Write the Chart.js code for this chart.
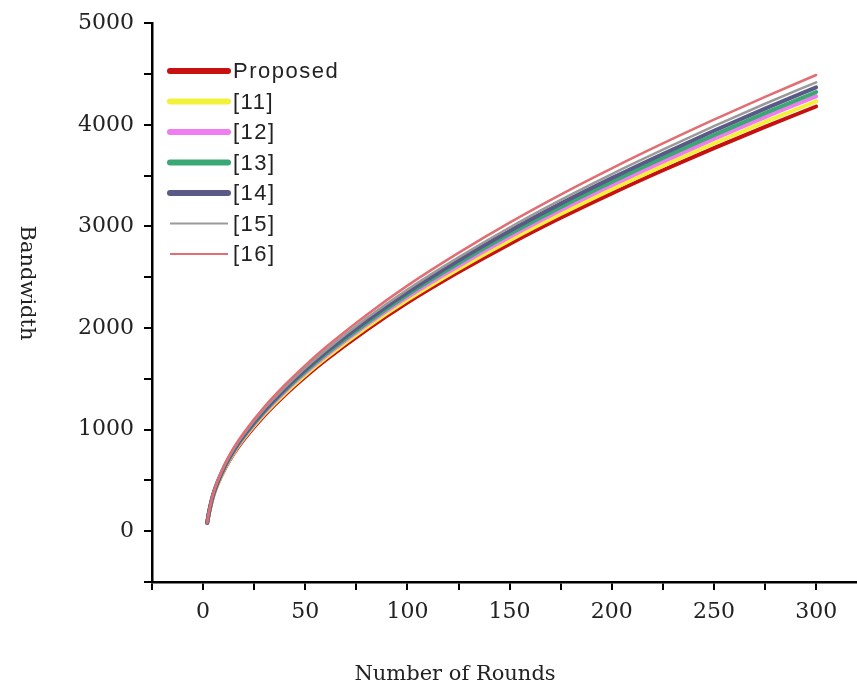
<!DOCTYPE html>
<html>
<head>
<meta charset="utf-8">
<script src="https://cdn.jsdelivr.net/npm/chart.js@4.4.1/dist/chart.umd.min.js"></script>
<style>
  html, body { margin: 0; padding: 0; background: #fff; }
  #wrap { width: 857px; height: 688px; }
</style>
</head>
<body>
<div id="wrap"><canvas id="bwChart"></canvas></div>
<script>
// Number of rounds (x values)
const rounds = [2, 3, 5, 10, 15, 20, 30, 40, 50, 60, 80, 100, 125, 150, 175, 200, 225, 250, 275, 300];

// Bandwidth, one array per scheme
const proposed = [80, 190, 350, 590, 765, 905, 1140, 1340, 1520, 1685, 1982, 2250, 2550, 2828, 3085, 3325, 3553, 3771, 3980, 4180];
const ref11 = [81, 192, 354, 597, 774, 916, 1154, 1356, 1538, 1705, 2006, 2277, 2581, 2862, 3122, 3365, 3596, 3816, 4028, 4230];
const ref12 = [82, 195, 358, 604, 783, 927, 1167, 1372, 1556, 1725, 2030, 2304, 2611, 2896, 3159, 3405, 3638, 3861, 4076, 4280];
const ref13 = [83, 196, 362, 610, 791, 936, 1179, 1386, 1572, 1742, 2049, 2327, 2637, 2924, 3190, 3438, 3674, 3899, 4115, 4322];
const ref14 = [84, 199, 366, 617, 799, 946, 1191, 1400, 1588, 1761, 2071, 2351, 2665, 2955, 3224, 3475, 3713, 3941, 4159, 4368];
const ref15 = [85, 201, 370, 624, 809, 957, 1205, 1416, 1607, 1781, 2095, 2378, 2695, 2989, 3261, 3515, 3755, 3986, 4207, 4418];
const ref16 = [86, 204, 376, 634, 822, 972, 1224, 1439, 1632, 1810, 2129, 2417, 2739, 3037, 3313, 3571, 3816, 4050, 4275, 4490];

const seriesLabels = ['Proposed', '[11]', '[12]', '[13]', '[14]', '[15]', '[16]'];
const seriesValues = [proposed, ref11, ref12, ref13, ref14, ref15, ref16];
const seriesColors = ['#c81010', '#f2f23a', '#f07cf0', '#3aa874', '#5a5a86', '#9a9a9a', '#e06e72'];
const seriesWidths = [4, 4, 4, 4, 4, 2.5, 2.5];

// tick positions (major + minor) and which of them carry a label
const xTicks = [-25, 0, 25, 50, 75, 100, 125, 150, 175, 200, 225, 250, 275, 300];
const xLabels = [0, 50, 100, 150, 200, 250, 300];
const yTicks = [-500, 0, 500, 1000, 1500, 2000, 2500, 3000, 3500, 4000, 4500, 5000];
const yLabels = [0, 1000, 2000, 3000, 4000, 5000];

const xTitle = 'Number of Rounds';
const yTitle = 'Bandwidth';

// later series are painted over earlier ones, as in the original plot
const datasets = seriesValues.map((vals, i) => ({
    label: seriesLabels[i],
    data: rounds.map((r, j) => ({ x: r, y: vals[j] })),
    borderColor: seriesColors[i],
    borderWidth: seriesWidths[i],
    borderCapStyle: 'round',
    pointRadius: 0,
    cubicInterpolationMode: 'monotone',
    order: seriesValues.length - i,
    fill: false
}));

// legend drawn inside the plot, like the original figure
const innerLegend = {
    id: 'innerLegend',
    afterDraw(chart) {
        const c = chart.ctx;
        c.save();
        chart.data.datasets.forEach((ds, i) => {
            const y = 71 + i * 30.5;
            c.beginPath();
            c.strokeStyle = ds.borderColor;
            c.lineWidth = i < 5 ? 6 : 2;
            c.lineCap = i < 5 ? 'round' : 'butt';
            c.moveTo(170, y);
            c.lineTo(228, y);
            c.stroke();
            c.fillStyle = '#222';
            c.font = '22px "Liberation Sans", Arial, sans-serif';
            c.letterSpacing = '1.5px';
            c.textBaseline = 'middle';
            c.fillText(ds.label, 233, y + 1);
        });
        c.restore();
    }
};

// axis titles
const axisTitles = {
    id: 'axisTitles',
    afterDraw(chart) {
        const c = chart.ctx;
        c.save();
        c.fillStyle = '#222';
        c.font = '21px "DejaVu Serif", serif';
        c.textAlign = 'center';
        c.textBaseline = 'middle';
        c.fillText(xTitle, 455, 675);
        c.translate(26, 283);
        c.rotate(Math.PI / 2);
        c.fillText(yTitle, 0, 0);
        c.restore();
    }
};

const tickFont = { family: '"DejaVu Serif", serif', size: 22 };

const ctx = document.getElementById('bwChart').getContext('2d');
const bwChart = new Chart(ctx, {
    type: 'line',
    data: { datasets: datasets },
    options: {
        responsive: true,
        maintainAspectRatio: false,
        animation: false,
        layout: { padding: { top: 23, right: 0, bottom: 0, left: 0 } },
        plugins: {
            legend: { display: false },
            tooltip: { enabled: false }
        },
        scales: {
            x: {
                type: 'linear',
                min: -25,
                max: 320,
                afterFit(scale) { scale.height = 106; },
                afterBuildTicks(scale) {
                    scale.ticks = xTicks.map(v => ({ value: v }));
                },
                border: { display: true, color: '#000', width: 2.5 },
                grid: { drawOnChartArea: false, drawTicks: true, tickLength: 8, color: '#000', lineWidth: 2 },
                ticks: {
                    autoSkip: false,
                    maxRotation: 0,
                    padding: 9,
                    color: '#222',
                    font: tickFont,
                    callback: (v) => xLabels.includes(v) ? v : ''
                }
            },
            y: {
                min: -500,
                max: 5000,
                afterFit(scale) { scale.width = 152; },
                afterBuildTicks(scale) {
                    scale.ticks = yTicks.map(v => ({ value: v }));
                },
                border: { display: true, color: '#000', width: 2.5 },
                grid: { drawOnChartArea: false, drawTicks: true, tickLength: 8, color: '#000', lineWidth: 2 },
                ticks: {
                    autoSkip: false,
                    padding: 10,
                    color: '#222',
                    font: tickFont,
                    callback: (v) => yLabels.includes(v) ? v : ''
                }
            }
        }
    },
    plugins: [innerLegend, axisTitles]
});
</script>
</body>
</html>
